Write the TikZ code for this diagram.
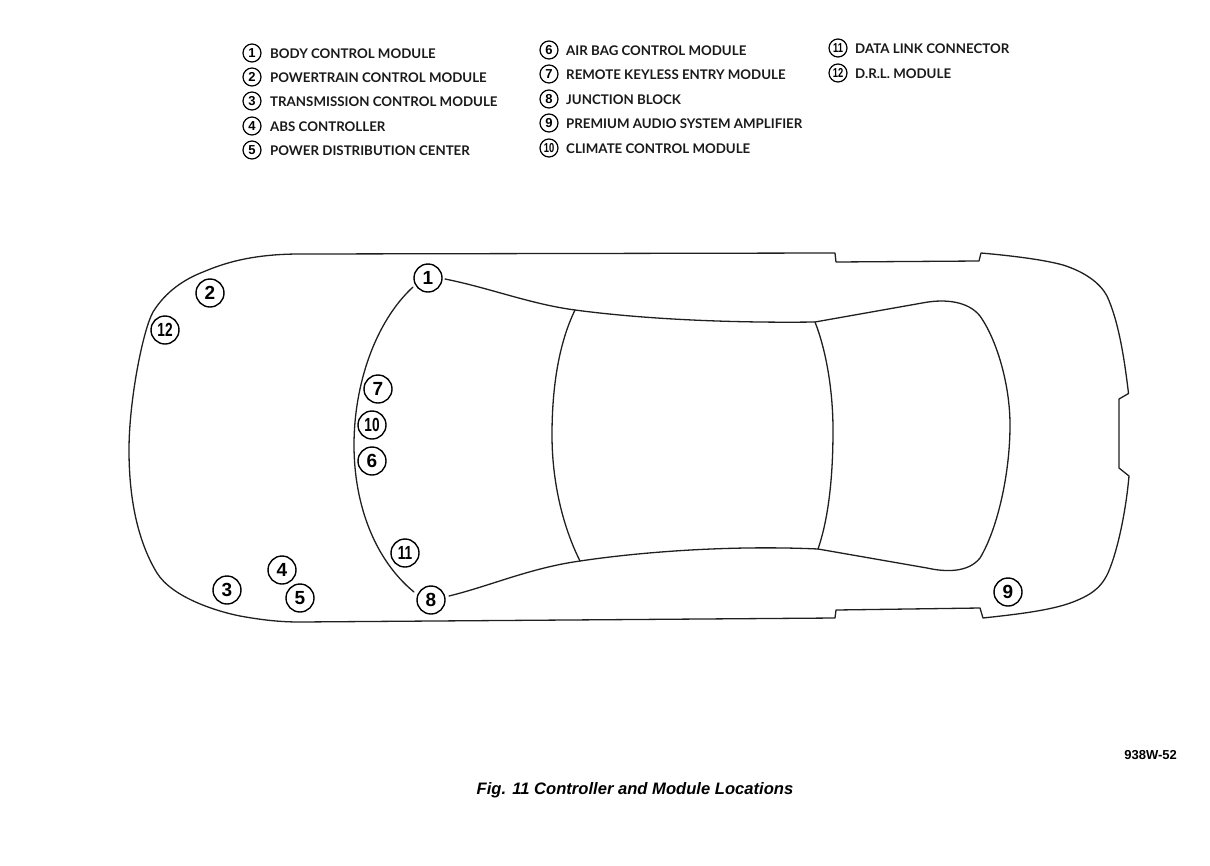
\documentclass[tikz,border=0pt]{standalone}
\usepackage{fontspec}
\setmainfont{Lato}
\newfontfamily\capfont{Liberation Sans}
\usetikzlibrary{calc}
\tikzset{
  x=1pt,y=-1pt,
  line/.style={draw=black!88,line width=1.3pt,line join=round,line cap=round},
  carnum/.style={circle,draw=black,line width=1.4pt,minimum size=28pt,inner sep=0pt,fill=white,font=\capfont\bfseries\fontsize{19}{19}\selectfont},
  keynum/.style={circle,draw=black,line width=1.2pt,minimum size=18pt,inner sep=0pt,font=\capfont\bfseries\fontsize{13}{13}\selectfont},
  keytext/.style={anchor=west,inner sep=0pt,yshift=-1pt,text=black!90,font=\fontsize{13.3}{14}\selectfont\bfseries},
}
\newcommand{\tight}[1]{\scalebox{0.72}[1]{#1}}
\begin{document}
\begin{tikzpicture}
\useasboundingbox (0,0) rectangle (1210,865);
% legend
\node[keynum] (k1) at (252,53) {1};
\node[keytext] (t1) at (270,53) {BODY CONTROL MODULE};
\node[keynum] (k2) at (252,77) {2};
\node[keytext] (t2) at (270,77) {POWERTRAIN CONTROL MODULE};
\node[keynum] (k3) at (252,101) {3};
\node[keytext] (t3) at (270,101) {TRANSMISSION CONTROL MODULE};
\node[keynum] (k4) at (252,126) {4};
\node[keytext] (t4) at (270,126) {ABS CONTROLLER};
\node[keynum] (k5) at (252,150) {5};
\node[keytext] (t5) at (270,150) {POWER DISTRIBUTION CENTER};
\node[keynum] (k6) at (549,50) {6};
\node[keytext] (t6) at (566,50) {AIR BAG CONTROL MODULE};
\node[keynum] (k7) at (549,74) {7};
\node[keytext] (t7) at (566,74) {REMOTE KEYLESS ENTRY MODULE};
\node[keynum] (k8) at (549,99) {8};
\node[keytext] (t8) at (566,99) {JUNCTION BLOCK};
\node[keynum] (k9) at (549,123) {9};
\node[keytext] (t9) at (566,123) {PREMIUM AUDIO SYSTEM AMPLIFIER};
\node[keynum] (k10) at (549,148) {\tight{10}};
\node[keytext] (t10) at (566,148) {CLIMATE CONTROL MODULE};
\node[keynum] (k11) at (838,48) {\tight{11}};
\node[keytext] (t11) at (855,48) {DATA LINK CONNECTOR};
\node[keynum] (k12) at (838,73) {\tight{12}};
\node[keytext] (t12) at (855,73) {D.R.L. MODULE};
% body outline
\draw[line] (835,253) -- (836,262) -- (979,261) -- (981,253)
  .. controls (1015,256) and (1045,260) .. (1063,265)
  .. controls (1085,272) and (1100,283) .. (1107,296)
  .. controls (1118,320) and (1124,355) .. (1128.5,393.5)
  -- (1119,399) -- (1119,468) -- (1129,476)
  .. controls (1126,510) and (1118,550) .. (1108,573)
  .. controls (1100,590) and (1088,596) .. (1073,602)
  .. controls (1050,611) and (1010,615) .. (983,618)
  -- (980,608) -- (836,610) -- (835,618)
  -- (300,622)
  .. controls (280,622) and (262,620) .. (240,616)
  .. controls (215,611) and (172,597) .. (157,573)
  .. controls (140,545) and (129,505) .. (129,450)
  .. controls (129,400) and (143,330) .. (153,312)
  .. controls (166,291) and (185,279) .. (203,272)
  .. controls (222,264) and (250,254) .. (300,254)
  -- cycle;
% cabin
\coordinate (wsTop) at (575,310);
\coordinate (wsBot) at (580,561);
\coordinate (rwTop) at (815,322);
\coordinate (rwBot) at (818,549);
% hood arc and car numbers
\node[carnum] (n1) at (428,278) {1};
\node[carnum] (n8) at (431,600) {8};
\draw[line] (413,287) .. controls (375,322) and (354,385) .. (354,445)
  .. controls (354,505) and (375,560) .. (414,592);
\draw[line] (445,279) .. controls (490,288) and (530,304) .. (wsTop)
  .. controls (650,320) and (740,323) .. (rwTop)
  -- (925,302.5)
  .. controls (945,299) and (968,301) .. (980,316)
  .. controls (997,340) and (1010,385) .. (1010,425)
  .. controls (1010,475) and (997,530) .. (980,558)
  .. controls (968,573) and (945,572) .. (927,568)
  -- (rwBot)
  .. controls (730,545) and (640,552) .. (wsBot)
  .. controls (530,568) and (490,586) .. (449,596);
\draw[line] (wsTop) .. controls (558,345) and (552,390) .. (552,435)
  .. controls (552,480) and (562,525) .. (wsBot);
\draw[line] (rwTop) .. controls (826,350) and (833,390) .. (833,430)
  .. controls (833,480) and (828,520) .. (rwBot);
\node[carnum] (n2) at (210,293) {2};
\node[carnum] (n12) at (165,330) {\tight{12}};
\node[carnum] (n7) at (378,389) {7};
\node[carnum] (n10) at (372,425) {\tight{10}};
\node[carnum] (n6) at (372,461) {6};
\node[carnum] (n11) at (405,553) {\tight{11}};
\node[carnum] (n3) at (227,590) {3};
\node[carnum] (n4) at (282,570) {4};
\node[carnum] (n5) at (300,598) {5};
\node[carnum] (n9) at (1008,592) {9};
% captions
\node[anchor=east,inner sep=0pt,font=\capfont\bfseries\fontsize{13}{13}\selectfont] (code) at (1177,755) {938W-52};
\node[inner sep=0pt,font=\capfont\bfseries\itshape\fontsize{16.6}{17}\selectfont] (caption) at (635,790) {Fig. 11 Controller and Module Locations};
\end{tikzpicture}
\end{document}
